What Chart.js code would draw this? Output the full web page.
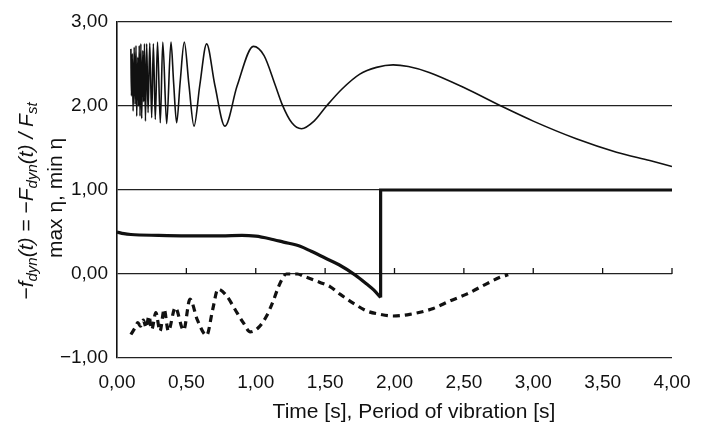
<!DOCTYPE html>
<html>
<head>
<meta charset="utf-8">
<script src="https://cdn.jsdelivr.net/npm/chart.js@4.4.1/dist/chart.umd.min.js"></script>
<style>
html,body{margin:0;padding:0;background:#fff;}
#wrap{width:707px;height:436px;position:relative;}
</style>
</head>
<body>
<div id="wrap"><canvas id="c" width="707" height="436"></canvas></div>
<script>
// ---- data ----
const xTickValues = [0, 0.5, 1, 1.5, 2, 2.5, 3, 3.5, 4];
const yTickValues = [-1, 0, 1, 2, 3];

// upper thin curve (max eta)
const upperT = [0.100,0.104,0.110,0.116,0.124,0.130,0.137,0.142,0.150,0.156,0.160,0.166,0.172,0.178,0.186,0.192,0.198,0.205,0.214,0.224,0.236,0.250,0.262,0.276,0.292,0.312,0.330,0.358,0.389,0.408,0.430,0.455,0.485,0.518,0.555,0.597,0.646,0.705,0.778,0.866,0.983,1.06,1.14,1.19,1.26,1.33,1.42,1.51,1.62,1.75,1.87,1.99,2.10,2.25,2.50,2.78,3.00,3.31,3.60,3.84,4.00];
const upperY = [2.68,2.12,2.62,1.94,2.70,2.02,2.72,1.88,2.58,2.00,2.72,1.88,2.74,1.85,2.66,2.05,2.74,1.82,2.74,1.92,2.75,1.86,2.74,1.84,2.76,1.80,2.76,1.79,2.76,2.28,1.80,2.28,2.76,2.26,1.76,2.25,2.74,2.25,1.76,2.24,2.71,2.60,2.25,2.02,1.80,1.73,1.82,2.00,2.20,2.38,2.46,2.49,2.47,2.40,2.22,1.99,1.82,1.61,1.45,1.35,1.28];

// thick curve (f_dyn) up to the step
const fdynT = [0.00,0.05,0.10,0.30,0.50,0.75,0.90,1.00,1.10,1.20,1.32,1.40,1.50,1.60,1.715,1.80,1.85,1.90];
const fdynY = [0.50,0.48,0.47,0.46,0.455,0.455,0.46,0.45,0.42,0.38,0.33,0.27,0.19,0.11,-0.01,-0.12,-0.19,-0.28];
// the step after the drop
const stepT = [1.90, 1.90, 4.00];
const stepY = [-0.28, 1.00, 1.00];

// dashed curve (min eta)
const lowerT = [0.10,0.13,0.15,0.17,0.19,0.21,0.23,0.25,0.28,0.31,0.34,0.37,0.42,0.48,0.526,0.58,0.646,0.69,0.728,0.79,0.85,0.91,0.96,1.018,1.078,1.126,1.162,1.19,1.22,1.30,1.35,1.415,1.463,1.535,1.607,1.715,1.80,1.897,1.99,2.11,2.28,2.40,2.52,2.66,2.76,2.82];
const lowerY = [-0.72,-0.64,-0.58,-0.62,-0.55,-0.64,-0.50,-0.66,-0.46,-0.68,-0.42,-0.68,-0.40,-0.67,-0.30,-0.55,-0.73,-0.42,-0.18,-0.26,-0.42,-0.58,-0.69,-0.64,-0.50,-0.32,-0.16,-0.06,0.00,0.00,-0.03,-0.07,-0.10,-0.15,-0.24,-0.36,-0.44,-0.48,-0.50,-0.48,-0.41,-0.32,-0.24,-0.12,-0.04,-0.01];

const xTitle = 'Time [s], Period of vibration [s]';
const yTitle2 = 'max \u03b7, min \u03b7';

// ---- helpers ----
const pts = (xs, ys) => xs.map((x, i) => ({x: x, y: ys[i]}));
const fmt = v => (v < 0 ? '\u2212' : '') + Math.abs(v).toFixed(2).replace('.', ',');
const FONT = "'Liberation Sans', Arial, sans-serif";

const decor = {
  id: 'decor',
  afterDatasetsDraw(chart) {
    const ctx = chart.ctx, xs = chart.scales.x, ys = chart.scales.y;
    ctx.save();
    const y0 = ys.getPixelForValue(0);
    ctx.strokeStyle = '#111';
    ctx.lineWidth = 1.3;
    xTickValues.forEach(v => {
      if (v === 0) return;
      const px = xs.getPixelForValue(v);
      ctx.beginPath(); ctx.moveTo(px, y0); ctx.lineTo(px, y0 - 6); ctx.stroke();
    });
    ctx.restore();
  },
  afterDraw(chart) {
    const ctx = chart.ctx;
    ctx.save();
    ctx.fillStyle = '#111';
    ctx.font = '21px ' + FONT;
    ctx.textAlign = 'center';
    ctx.textBaseline = 'middle';
    ctx.fillText(xTitle, 414, 412);
    const main = 'italic 21px ' + FONT, sub = 'italic 15px ' + FONT;
    const segs = [['\u2212f', main], ['dyn', sub], ['(t) = \u2212F', main], ['dyn', sub], ['(t) / F', main], ['st', sub]];
    ctx.translate(26, 201);
    ctx.rotate(-Math.PI / 2);
    let total = 0;
    segs.forEach(s => { ctx.font = s[1]; total += ctx.measureText(s[0]).width; });
    let cx = -total / 2;
    ctx.textAlign = 'left';
    ctx.textBaseline = 'alphabetic';
    segs.forEach(s => {
      ctx.font = s[1];
      ctx.fillText(s[0], cx, s[1] === sub ? 11 : 7);
      cx += ctx.measureText(s[0]).width;
    });
    ctx.font = '21px ' + FONT;
    ctx.textAlign = 'center';
    ctx.fillText(yTitle2, 3, 36);
    ctx.restore();
  }
};

new Chart(document.getElementById('c'), {
  type: 'line',
  data: {
    datasets: [
      { data: pts(upperT, upperY), borderColor: '#111', borderWidth: 1.6, pointRadius: 0, cubicInterpolationMode: 'monotone', fill: false },
      { data: pts(fdynT, fdynY), borderColor: '#111', borderWidth: 3.2, pointRadius: 0, cubicInterpolationMode: 'monotone', fill: false },
      { data: pts(stepT, stepY), borderColor: '#111', borderWidth: 3.2, pointRadius: 0, tension: 0, fill: false, borderJoinStyle: 'miter' },
      { data: pts(lowerT, lowerY), borderColor: '#111', borderWidth: 3.2, borderDash: [7, 5], pointRadius: 0, cubicInterpolationMode: 'monotone', fill: false }
    ]
  },
  options: {
    responsive: false,
    animation: false,
    events: [],
    layout: { padding: { top: 22, right: 35, left: 0, bottom: 0 } },
    plugins: { legend: { display: false }, tooltip: { enabled: false } },
    scales: {
      x: {
        type: 'linear', min: 0, max: 4,
        afterBuildTicks: s => { s.ticks = xTickValues.map(v => ({value: v})); },
        afterFit: s => { s.height = 78; },
        grid: { display: false, drawTicks: false },
        border: { display: false },
        ticks: { callback: v => fmt(v), color: '#111', font: { family: FONT, size: 19 }, padding: 13, maxRotation: 0, autoSkip: false }
      },
      y: {
        type: 'linear', min: -1, max: 3,
        afterBuildTicks: s => { s.ticks = yTickValues.map(v => ({value: v})); },
        afterFit: s => { s.width = 117; },
        grid: { color: '#222', lineWidth: 1.3, drawTicks: false },
        border: { display: true, color: '#111', width: 1.6 },
        ticks: { callback: v => fmt(v), color: '#111', font: { family: FONT, size: 19 }, padding: 9, autoSkip: false }
      }
    }
  },
  plugins: [decor]
});
</script>
</body>
</html>
